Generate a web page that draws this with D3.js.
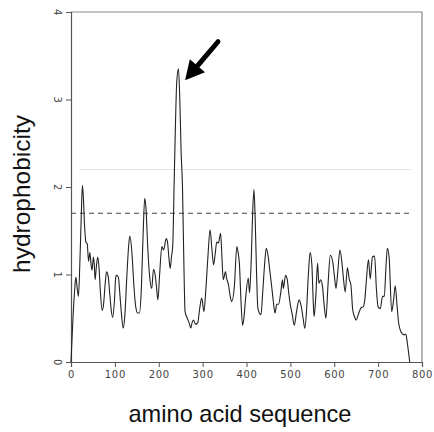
<!DOCTYPE html>
<html>
<head>
<meta charset="utf-8">
<script src="https://cdn.jsdelivr.net/npm/d3@7"></script>
<style>
	body { margin: 0; background: #fff; }
	.tick text { font-family: "DejaVu Sans", Verdana, sans-serif; font-size: 10px; fill: #444; letter-spacing: 0.7px; }
	.label { font-family: "Liberation Sans", Arial, sans-serif; fill: #111; }
</style>
</head>
<body>
<div id="chart"></div>
<script>

// residue position along the sequence
var positions = [0,4,8,11,14,17,20,23,26,28,31,34,37,40,43,46,48,51,53,55,58,61,64,67,71,74,78,81,85,88,
	92,95,99,102,104,108,111,115,119,123,127,131,134,139,143,147,152,156,160,164,168,171,175,179,184,188,192,195,198,202,
	207,211,217,220,223,226,229,232,235,238,241,245,248,251,254,257,260,265,269,273,276,279,284,289,293,298,303,307,312,317,
	321,325,329,332,336,341,344,347,352,355,359,362,366,372,378,381,384,387,391,394,398,404,407,411,414,417,420,423,426,433,
	437,441,445,449,453,457,461,465,469,473,478,482,484,489,493,496,500,504,509,514,520,525,529,533,537,541,545,549,552,554,
	558,562,565,569,573,577,581,586,591,597,601,604,608,613,618,621,625,630,634,638,642,646,650,656,661,666,670,673,678,682,
	687,692,696,700,705,710,714,718,721,725,731,735,739,743,747,754,760,763,767,772];

// hydrophobicity score at each position
var scores = [0,0.45,0.8,0.97,0.85,0.75,1.1,1.6,2.02,1.9,1.55,1.37,1.35,1.15,1.25,1.1,1.05,1.2,1.12,0.94,1.1,1.2,1.07,0.8,0.59,0.65,0.9,1.03,0.97,0.8,
	0.58,0.51,0.7,0.97,0.99,0.97,0.8,0.55,0.385,0.55,0.95,1.3,1.44,1.24,0.9,0.65,0.56,0.56,0.8,1.4,1.87,1.75,1.3,0.99,0.84,1.06,0.99,0.85,0.71,1.0,
	1.32,1.28,1.41,1.37,1.2,1.07,1.2,1.34,2.02,2.7,3.2,3.35,3.0,2.4,2.02,1.2,0.575,0.5,0.45,0.39,0.45,0.48,0.43,0.45,0.6,0.73,0.575,0.8,1.2,1.51,
	1.3,1.11,1.25,1.37,1.36,1.47,1.2,0.94,1.03,0.95,0.88,0.78,0.69,0.84,1.32,1.25,1.11,0.75,0.42,0.5,0.73,0.96,0.79,1.2,1.7,1.97,1.6,1.0,0.61,0.54,
	0.8,1.1,1.3,1.22,1.05,0.88,0.7,0.56,0.66,0.66,0.79,0.94,0.84,0.99,0.94,0.8,0.65,0.55,0.42,0.575,0.71,0.63,0.5,0.385,0.6,1.0,1.25,1.11,0.7,0.52,
	0.75,1.13,0.9,0.94,0.87,0.65,0.5,0.9,1.22,1.13,0.95,0.84,1.03,1.28,1.11,0.95,0.8,1.08,0.95,0.88,0.6,0.52,0.48,0.56,0.62,0.63,0.73,0.92,1.17,0.95,
	1.2,1.21,0.84,0.63,0.61,0.75,0.75,1.1,1.3,1.2,0.575,0.7,0.87,0.65,0.44,0.33,0.31,0.32,0.2,0];

// tick values
var xticks = [0,100,200,300,400,500,600,700,800];
var yticks = [0,1,2,3,4];

// reference levels: faint line and dashed threshold
var faintlevel = 2.2,
	threshold = 1.7;

// annotation arrow, from tail to tip
var arrowtail = {pos: 335, score: 3.66},
	arrowtip = {pos: 260, score: 3.22};

var width = 434,
	height = 432,
	margin = {top: 12, right: 12, bottom: 70, left: 71};

var svg = d3.select("#chart")
	.append("svg")
	.attr("width", width)
	.attr("height", height);

var x = d3.scaleLinear()
	.domain([0, 800])
	.range([margin.left, width - margin.right]);

var y = d3.scaleLinear()
	.domain([0, 4])
	.range([height - margin.bottom, margin.top]);

var data = positions.map(function(p, i){

	return {pos: p, score: scores[i]};
});

// frame on top and right
svg.append("path")
	.attr("d", "M" + x(0) + "," + y(4) + "H" + x(800) + "V" + y(0))
	.attr("fill", "none")
	.attr("stroke", "#888")
	.attr("stroke-width", 1.2);

// faint level line
svg.append("line")
	.attr("x1", x(20))
	.attr("x2", x(775))
	.attr("y1", y(faintlevel))
	.attr("y2", y(faintlevel))
	.attr("stroke", "#e4e4e4")
	.attr("stroke-width", 1);

// dashed threshold line
svg.append("line")
	.attr("x1", x(0))
	.attr("x2", x(773))
	.attr("y1", y(threshold))
	.attr("y2", y(threshold))
	.attr("stroke", "#444")
	.attr("stroke-width", 1)
	.attr("stroke-dasharray", "5,4");

// axes
var xaxis = svg.append("g")
	.attr("transform", "translate(0," + y(0) + ")")
	.call(d3.axisBottom(x).tickValues(xticks).tickSize(5).tickPadding(4));

var yaxis = svg.append("g")
	.attr("transform", "translate(" + x(0) + ",0)")
	.call(d3.axisLeft(y).tickValues(yticks).tickFormat(d3.format("d")).tickSize(5).tickPadding(4));

svg.selectAll(".domain").attr("stroke", "#555").attr("stroke-width", 1.2);
svg.selectAll(".tick line").attr("stroke", "#555");

// rotate y tick labels
yaxis.selectAll(".tick text")
	.attr("x", null)
	.attr("text-anchor", "middle")
	.attr("transform", "translate(-14,0) rotate(90)")
	.attr("dy", "0.35em");

// profile line
var line = d3.line()
	.curve(d3.curveMonotoneX)
	.x(function(d){ return x(d.pos); })
	.y(function(d){ return y(d.score); });

svg.append("path")
	.datum(data)
	.attr("fill", "none")
	.attr("stroke", "#222")
	.attr("stroke-width", 1.1)
	.attr("stroke-linejoin", "round")
	.attr("d", line);

// arrow pointing at the highest peak
var ax1 = x(arrowtail.pos), ay1 = y(arrowtail.score),
	ax2 = x(arrowtip.pos), ay2 = y(arrowtip.score);
var ang = Math.atan2(ay2 - ay1, ax2 - ax1),
	headlen = 19,
	headwidth = 10;
var bx = ax2 - headlen * Math.cos(ang),
	by = ay2 - headlen * Math.sin(ang);

svg.append("line")
	.attr("x1", ax1)
	.attr("y1", ay1)
	.attr("x2", bx)
	.attr("y2", by)
	.attr("stroke", "#000")
	.attr("stroke-width", 5)
	.attr("stroke-linecap", "round");

svg.append("path")
	.attr("d", "M" + ax2 + "," + ay2 +
		"L" + (bx + headwidth * Math.sin(ang)) + "," + (by - headwidth * Math.cos(ang)) +
		"L" + (bx - headwidth * Math.sin(ang)) + "," + (by + headwidth * Math.cos(ang)) + "Z")
	.attr("fill", "#000");

// axis titles
svg.append("text")
	.attr("class", "label")
	.attr("x", 240)
	.attr("y", 422)
	.attr("text-anchor", "middle")
	.attr("font-size", "23.6px")
	.text("amino acid sequence");

svg.append("text")
	.attr("class", "label")
	.attr("transform", "translate(30,194) rotate(-90)")
	.attr("text-anchor", "middle")
	.attr("font-size", "24.5px")
	.text("hydrophobicity");

</script>
</body>
</html>
